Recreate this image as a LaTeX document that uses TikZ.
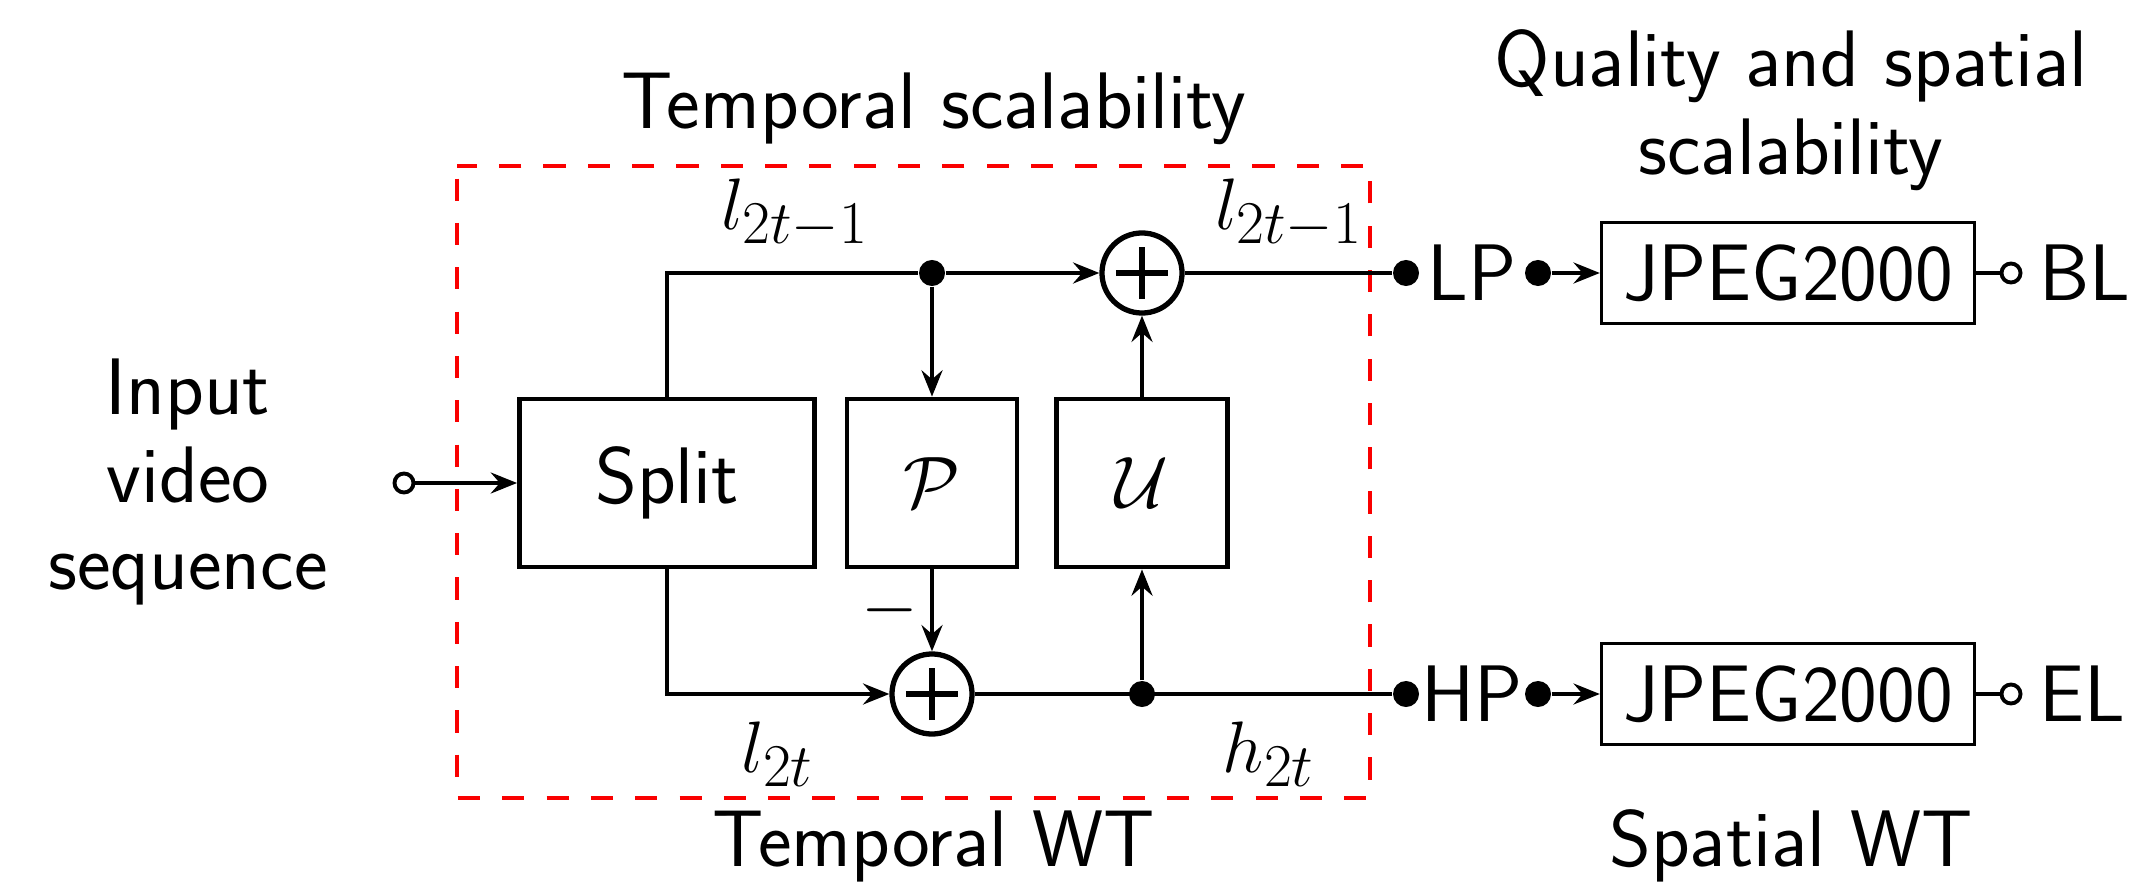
\documentclass[tikz,border=0pt]{standalone}
\usepackage{amsmath, amssymb}
\usepackage{tikz}
\usetikzlibrary{arrows.meta, positioning, calc}
\renewcommand{\familydefault}{\sfdefault}
\definecolor{wtred}{RGB}{250, 0, 0}
\definecolor{wtblack}{RGB}{0, 0, 0}

\begin{document}
\begin{tikzpicture}[x=0.01cm, y=-0.01cm, >={Stealth[length=7.5pt, width=6pt, inset=2.6pt]},
  font=\fontsize{22.8}{25}\selectfont,
  wire/.style={wtblack, line width=0.95pt},
  block/.style={draw, line width=1.35pt, minimum height=1.68cm, inner sep=0pt},
  coder/.style={draw, line width=0.9pt, minimum width=3.73cm, minimum height=1.01cm, inner sep=0pt},
  adder/.style={draw, circle, line width=1.5pt, minimum size=0.80cm, inner sep=0pt,
    path picture={
      \draw[line width=1.5pt] ([xshift=-0.26cm]path picture bounding box.center) -- ([xshift=0.26cm]path picture bounding box.center);
      \draw[line width=1.5pt] ([yshift=-0.26cm]path picture bounding box.center) -- ([yshift=0.26cm]path picture bounding box.center);}},
  dot/.style={circle, fill, inner sep=0pt, minimum size=0.26cm},
  port/.style={circle, draw, fill=white, line width=1.1pt, inner sep=0pt, minimum size=0.19cm}]

  \useasboundingbox (0,0) rectangle (2139,885);

  % --- temporal WT frame ---
  \draw[wtred, line width=1pt, dash pattern=on 6.3pt off 6.3pt, dash phase=9pt] (457,166) rectangle (1370,798);

  % --- lifting blocks ---
  \node[block, minimum width=2.95cm] (split) at (667,483) {Split};
  \node[block, minimum width=1.70cm] (pred) at (932,483) {$\mathcal{P}$};
  \node[block, minimum width=1.71cm] (upd) at (1142,483) {$\mathcal{U}$};
  \node[adder] (addtop) at (1142,273) {};
  \node[adder] (addbot) at (932,694) {};
  \node[dot] (pdot) at (pred |- addtop) {};
  \node[dot] (udot) at (upd |- addbot) {};

  % --- input ---
  \node[port] (inport) at (404,483) {};
  \node[align=center] (input) at (188,482) {Input\\video\\sequence};
  \draw[wire, ->] (inport) -- (split);

  % --- output channels (spatial WT) ---
  \foreach \y/\lin/\lout/\nm in {273/LP/BL/top, 694/HP/EL/bot}
  {
    \node[dot] (end\nm) at (1406,\y) {};
    \node (band\nm) at (1472,\y) {\lin};
    \node[dot] (go\nm) at (1538,\y) {};
    \node[coder] (jpeg\nm) at (1788,\y) {JPEG2000};
    \node[port] (out\nm) at (2011,\y) {};
    \node[anchor=west] (layer\nm) at (2027,\y) {\lout};
    \draw[wire, ->] (go\nm) -- (jpeg\nm);
    \draw[wire] (jpeg\nm) -- (out\nm);
  }

  % --- connections ---
  \draw[wire] (split.north) |- (pdot);
  \draw[wire, ->] (pdot) -- (addtop);
  \draw[wire, ->] (pdot) -- (pred);
  \draw[wire, ->] (upd) -- (addtop);
  \draw[wire] (addtop) -- (endtop);
  \draw[wire, ->] (split.south) |- (addbot);
  \draw[wire, ->] (pred) -- (addbot) node[midway, left] {$-$};
  \draw[wire] (addbot) -- (endbot);
  \draw[wire, ->] (udot) -- (upd);

  % --- signal labels ---
  \node (lodd) at (795,214) {$l_{2t-1}$};
  \node (loddout) at (1289,214) {$l_{2t-1}$};
  \node (leven) at (778,754) {$l_{2t}$};
  \node (heven) at (1269,754) {$h_{2t}$};

  % --- titles ---
  \node (tscal) at (934,109) {Temporal scalability};
  \node (twt) at (934,846) {Temporal WT};
  \node[align=center] (qscal) at (1791,110) {Quality and spatial\\scalability};
  \node (swt) at (1791,846) {Spatial WT};

\end{tikzpicture}
\end{document}
